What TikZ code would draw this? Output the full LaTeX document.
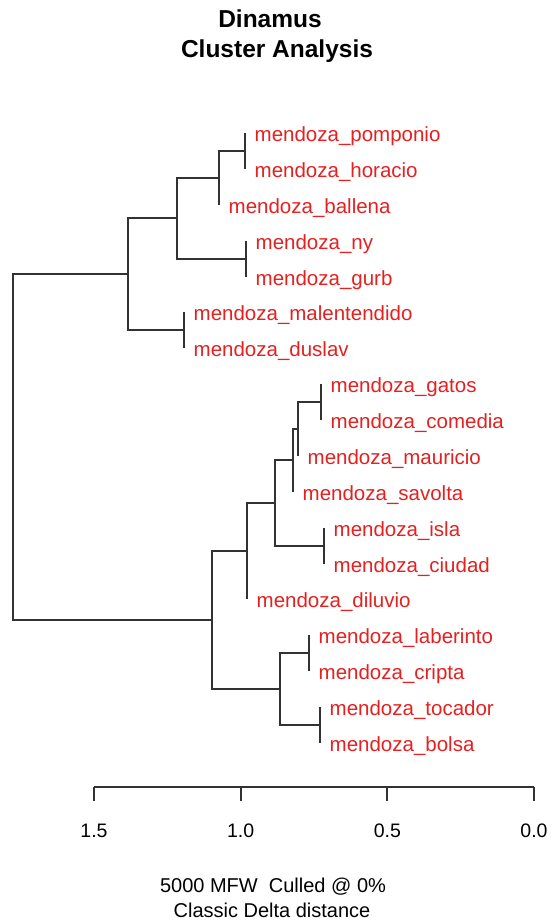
\documentclass[tikz,border=0pt]{standalone}
\usepackage{fontspec}
\setmainfont{Liberation Sans}
\definecolor{treeline}{RGB}{50,50,50}
\definecolor{leafred}{RGB}{228,32,32}
\begin{document}
\begin{tikzpicture}[x=1pt,y=-1pt,
  branch/.style={draw=treeline, line width=2pt},
  axisline/.style={draw=treeline, line width=2pt},
  leaflab/.style={anchor=base west, text=leafred, inner sep=0pt,
    font=\fontsize{20.5}{24}\selectfont, xshift=9.5pt, yshift=-8.5pt},
  ticklab/.style={anchor=base, inner sep=0pt, font=\fontsize{19.5}{23}\selectfont},
  caption/.style={anchor=base, inner sep=0pt, font=\fontsize{20}{24}\selectfont},
  titletext/.style={anchor=base, inner sep=0pt, font=\bfseries\fontsize{24.5}{29}\selectfont}]
\useasboundingbox (0,0) rectangle (552,920);

% title
\node[titletext] (title1) at (270,28) {Dinamus};
\node[titletext] (title2) at (277,58) {Cluster Analysis};

% leaves (x = merge height, y = leaf row)
\coordinate (pomponio)     at (245,133.0);
\coordinate (horacio)      at (245,168.9);
\coordinate (ballena)      at (219,204.8);
\coordinate (ny)           at (246,240.6);
\coordinate (gurb)         at (246,276.5);
\coordinate (malentendido) at (184,312.4);
\coordinate (duslav)       at (184,348.3);
\coordinate (gatos)        at (321,384.2);
\coordinate (comedia)      at (321,420.0);
\coordinate (mauricio)     at (298,455.9);
\coordinate (savolta)      at (293,491.8);
\coordinate (isla)         at (324,527.7);
\coordinate (ciudad)       at (324,563.6);
\coordinate (diluvio)      at (247,599.4);
\coordinate (laberinto)    at (309,635.3);
\coordinate (cripta)       at (309,671.2);
\coordinate (tocador)      at (320,707.1);
\coordinate (bolsa)        at (320,743.0);

% leaf labels
\node[leaflab] (t-pomponio)     at (pomponio)     {mendoza\_pomponio};
\node[leaflab] (t-horacio)      at (horacio)      {mendoza\_horacio};
\node[leaflab] (t-ballena)      at (ballena)      {mendoza\_ballena};
\node[leaflab] (t-ny)           at (ny)           {mendoza\_ny};
\node[leaflab] (t-gurb)         at (gurb)         {mendoza\_gurb};
\node[leaflab] (t-malentendido) at (malentendido) {mendoza\_malentendido};
\node[leaflab] (t-duslav)       at (duslav)       {mendoza\_duslav};
\node[leaflab] (t-gatos)        at (gatos)        {mendoza\_gatos};
\node[leaflab] (t-comedia)      at (comedia)      {mendoza\_comedia};
\node[leaflab] (t-mauricio)     at (mauricio)     {mendoza\_mauricio};
\node[leaflab] (t-savolta)      at (savolta)      {mendoza\_savolta};
\node[leaflab] (t-isla)         at (isla)         {mendoza\_isla};
\node[leaflab] (t-ciudad)       at (ciudad)       {mendoza\_ciudad};
\node[leaflab] (t-diluvio)      at (diluvio)      {mendoza\_diluvio};
\node[leaflab] (t-laberinto)    at (laberinto)    {mendoza\_laberinto};
\node[leaflab] (t-cripta)       at (cripta)       {mendoza\_cripta};
\node[leaflab] (t-tocador)      at (tocador)      {mendoza\_tocador};
\node[leaflab] (t-bolsa)        at (bolsa)        {mendoza\_bolsa};

% internal merges
\coordinate (A) at (245,151.0);
\coordinate (B) at (219,177.9);
\coordinate (C) at (246,258.6);
\coordinate (D) at (177,218.2);
\coordinate (E) at (184,330.3);
\coordinate (F) at (128,274.3);
\coordinate (G) at (321,402.1);
\coordinate (H) at (298,429.0);
\coordinate (I) at (293,460.4);
\coordinate (J) at (324,545.6);
\coordinate (K) at (275,503.0);
\coordinate (L) at (247,551.2);
\coordinate (M) at (309,653.3);
\coordinate (N) at (320,725.0);
\coordinate (O) at (280,689.2);
\coordinate (P) at (212,620.2);
\coordinate (R) at (13,447.2);

% branches
\draw[branch] (pomponio) -| (A) |- (horacio);
\draw[branch] (A) -| (B) |- (ballena);
\draw[branch] (ny) -| (C) |- (gurb);
\draw[branch] (B) -| (D) |- (C);
\draw[branch] (malentendido) -| (E) |- (duslav);
\draw[branch] (D) -| (F) |- (E);
\draw[branch] (gatos) -| (G) |- (comedia);
\draw[branch] (G) -| (H) |- (mauricio);
\draw[branch] (H) -| (I) |- (savolta);
\draw[branch] (isla) -| (J) |- (ciudad);
\draw[branch] (I) -| (K) |- (J);
\draw[branch] (K) -| (L) |- (diluvio);
\draw[branch] (laberinto) -| (M) |- (cripta);
\draw[branch] (tocador) -| (N) |- (bolsa);
\draw[branch] (M) -| (O) |- (N);
\draw[branch] (L) -| (P) |- (O);
\draw[branch] (F) -| (R) |- (P);

% distance axis
\coordinate (ax15) at (94,787);
\coordinate (ax10) at (240.7,787);
\coordinate (ax05) at (387.4,787);
\coordinate (ax00) at (534,787);
\coordinate (tk15) at (94,801);
\coordinate (tk10) at (240.7,801);
\coordinate (tk05) at (387.4,801);
\coordinate (tk00) at (534,801);
\draw[axisline] (ax15) -- (ax00);
\draw[axisline] (ax15) -- (tk15);
\draw[axisline] (ax10) -- (tk10);
\draw[axisline] (ax05) -- (tk05);
\draw[axisline] (ax00) -- (tk00);
\node[ticklab] (l15) at (94,837) {1.5};
\node[ticklab] (l10) at (240.7,837) {1.0};
\node[ticklab] (l05) at (387.4,837) {0.5};
\node[ticklab] (l00) at (534,837) {0.0};

% caption
\node[caption] (cap1) at (273,892) {5000 MFW\ \ Culled @ 0\%};
\node[caption] (cap2) at (272,917) {Classic Delta distance};
\end{tikzpicture}
\end{document}
